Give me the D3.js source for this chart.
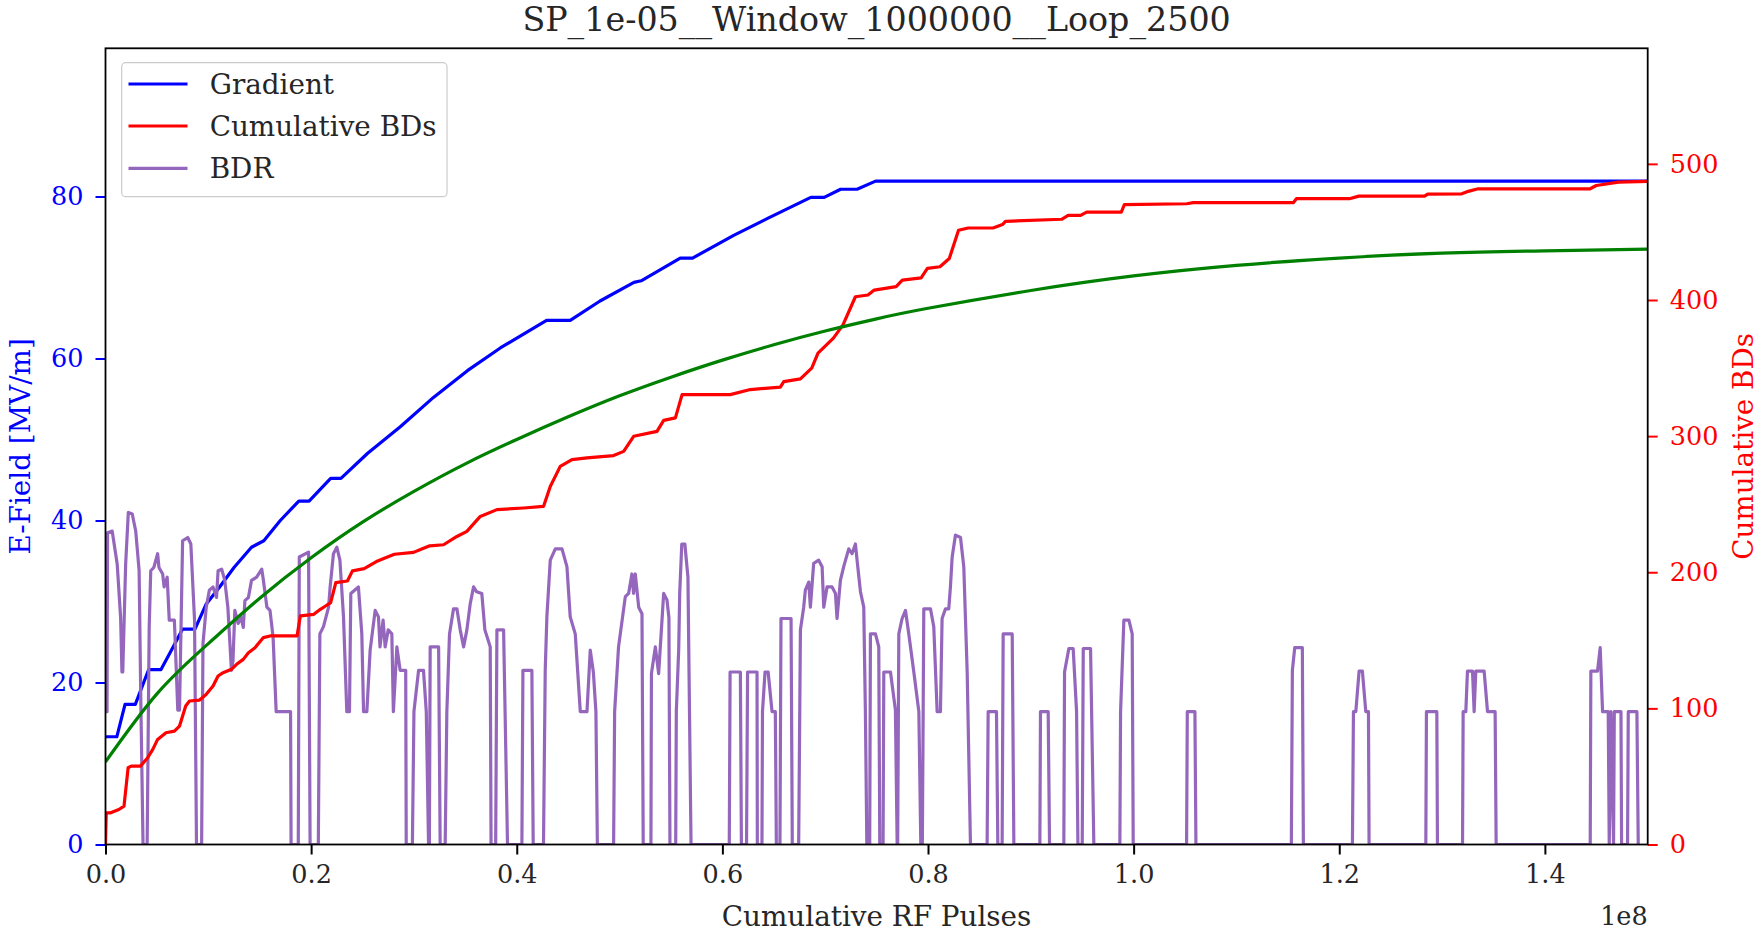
<!DOCTYPE html>
<html>
<head>
<meta charset="utf-8">
<script src="https://cdn.jsdelivr.net/npm/d3@7"></script>
<style>
  html, body { margin: 0; padding: 0; background: #ffffff; }
  svg { display: block; }
  text { font-family: "DejaVu Serif", serif; }
</style>
</head>
<body>
<svg id="chart" width="1760" height="933"></svg>
<script>
// ---------------- DATA (x in units of 1e8 pulses) ----------------
const chartTitle = "SP_1e-05__Window_1000000__Loop_2500";
const xLabel = "Cumulative RF Pulses";
const yLeftLabel = "E-Field [MV/m]";
const yRightLabel = "Cumulative BDs";
const xOffsetLabel = "1e8";
const legendLabels = ["Gradient", "Cumulative BDs", "BDR"];

const xTicks = [0, 0.2, 0.4, 0.6, 0.8, 1.0, 1.2, 1.4];
const xTickLabels = ["0.0", "0.2", "0.4", "0.6", "0.8", "1.0", "1.2", "1.4"];
const leftTicks = [0, 20, 40, 60, 80];
const rightTicks = [0, 100, 200, 300, 400, 500];

// Gradient (left axis, MV/m)
const gradient = [
  [0,13.3],[0.011,13.3],[0.019,17.3],[0.029,17.3],[0.042,21.6],[0.054,21.6],[0.065,24.2],
  [0.075,26.6],[0.087,26.6],[0.098,29.7],[0.111,31.8],[0.125,34.2],[0.142,36.7],[0.154,37.5],
  [0.17,40.0],[0.188,42.4],[0.198,42.4],[0.219,45.2],[0.229,45.2],[0.255,48.3],[0.287,51.6],
  [0.319,55.2],[0.352,58.5],[0.384,61.3],[0.429,64.7],[0.452,64.7],[0.481,67.1],[0.514,69.4],
  [0.521,69.6],[0.559,72.4],[0.571,72.4],[0.611,75.2],[0.644,77.3],[0.686,79.9],[0.699,79.9],
  [0.715,80.9],[0.731,80.9],[0.749,81.9],[1.5,81.9]
];

// Cumulative breakdowns (right axis)
const cumulativeBDs = [
  [0,0],[0.0007,23.3],[0.005,23.3],[0.013,25.7],[0.018,28.2],[0.022,56.4],[0.025,57.6],[0.034,57.6],
  [0.041,63.7],[0.046,69.9],[0.0507,77.2],[0.0588,82.1],[0.067,83.3],[0.072,87],[0.078,101.7],
  [0.0817,105.4],[0.0915,106.1],[0.098,110.3],[0.1046,116.4],[0.1095,123.8],[0.1144,126.2],
  [0.1225,128.7],[0.1275,132.4],[0.134,136],[0.139,140.9],[0.1454,144.6],[0.1536,152],[0.16,153.2],
  [0.1863,153.2],[0.1895,167.9],[0.2026,169.1],[0.209,172.8],[0.214,175.2],[0.219,177.7],
  [0.224,192.4],[0.2353,193.6],[0.2402,201],[0.2516,202.7],[0.255,204.2],[0.2647,208.3],
  [0.273,210.8],[0.281,213.2],[0.2996,214.6],[0.307,216.9],[0.3154,219.4],[0.3288,220.2],
  [0.3418,226.3],[0.3515,230],[0.3645,241],[0.3807,246],[0.4066,247.2],[0.4261,248.4],
  [0.4326,263],[0.4423,277.8],[0.4537,282.7],[0.4683,284],[0.4942,285.7],[0.504,288.8],
  [0.5137,299.9],[0.5364,303.5],[0.5429,311.6],[0.5543,313.4],[0.5608,330.5],[0.6077,330.5],
  [0.6272,334.2],[0.6564,336],[0.6597,340],[0.6759,342],[0.6869,350],[0.693,361],[0.708,372],
  [0.7173,381.7],[0.7294,402.4],[0.7416,403.7],[0.7477,407.3],[0.769,409.8],[0.775,414.6],
  [0.7933,416.3],[0.7994,423.2],[0.8116,424.4],[0.8207,430.5],[0.8297,451.2],[0.839,452.9],
  [0.8633,452.9],[0.8724,455.4],[0.8754,457.8],[0.93,459.3],[0.9363,462.2],[0.9484,462.2],
  [0.9543,464.6],[0.988,464.6],[0.991,470],[1.0516,470.7],[1.058,471.5],[1.1553,471.5],
  [1.1583,474.4],[1.21,474.4],[1.219,476.3],[1.283,476.3],[1.286,477.8],[1.3192,478],
  [1.3255,479.8],[1.335,481.7],[1.444,481.7],[1.45,484.1],[1.4716,486.6],[1.5,487.1]
];

// Fitted curve (left axis, green)
const fitCurve = [
  [0,10.2],[0.05,18.6],[0.1,24.8],[0.15,30.4],[0.2,35.4],[0.25,39.8],[0.3,43.6],[0.35,47.0],
  [0.4,50.0],[0.45,52.8],[0.5,55.4],[0.55,57.7],[0.6,59.8],[0.65,61.7],[0.7,63.4],[0.75,64.9],
  [0.8,66.2],[0.9,68.4],[1.0,70.2],[1.1,71.5],[1.2,72.4],[1.3,73.0],[1.4,73.3],[1.5,73.5]
];

// Breakdown rate (plotted against left axis scale)
const bdr = [
  [0,16.4],[0.0015,16.4],[0.002,38.5],[0.0065,38.7],[0.0114,34.6],[0.0147,28],[0.016,21.3],
  [0.0168,21.3],[0.0196,34.6],[0.0222,41],[0.026,40.8],[0.0294,38.7],[0.0327,33.8],[0.0343,18.2],
  [0.0365,0],[0.0405,0],[0.0425,26.8],[0.044,33.8],[0.047,34.2],[0.0507,35.9],[0.052,34.2],
  [0.0556,33.4],[0.057,31.8],[0.06,33],[0.062,27.7],[0.067,27.7],[0.0703,16.6],[0.072,16.6],
  [0.075,37.5],[0.08,37.9],[0.083,37.1],[0.0866,27.7],[0.0885,0],[0.0935,0],[0.0948,24.8],
  [0.098,29.3],[0.101,31.4],[0.1046,31.8],[0.108,30.5],[0.1095,33.8],[0.113,34],[0.116,32.6],
  [0.119,29.3],[0.1225,21.5],[0.124,22.7],[0.1258,28.9],[0.129,27.3],[0.132,28],[0.134,26.8],
  [0.1356,30.1],[0.139,30.5],[0.142,32.6],[0.147,33],[0.152,34],[0.1536,32.6],[0.157,29.3],
  [0.16,28.9],[0.163,25.6],[0.166,16.4],[0.18,16.4],[0.1805,0],[0.1875,0],[0.1885,35.5],
  [0.1975,36.1],[0.199,0],[0.207,0],
  [0.2085,26],[0.212,26.9],[0.217,29.3],[0.2185,31.8],[0.2217,35.9],[0.225,36.7],[0.228,35.1],
  [0.2315,28.1],[0.2347,16.4],[0.2373,16.4],[0.2386,31],[0.246,31.8],[0.2493,26],[0.251,16.4],
  [0.2542,16.4],[0.2574,24],[0.2623,28.9],[0.2655,28.1],[0.267,24.4],[0.27,27.7],[0.272,24.4],
  [0.275,26.5],[0.2785,26],[0.28,16.4],[0.2834,24.4],[0.2866,21.5],[0.292,21.5],[0.2925,0],
  [0.2985,0],[0.3,16.4],[0.3045,21.5],[0.3093,21.5],[0.312,16.4],[0.3142,0],[0.315,0],
  [0.3158,24.4],[0.324,24.4],[0.3255,0],[0.3304,0],[0.332,16.4],[0.3346,26],[0.3385,29.1],
  [0.3418,29.1],[0.345,26.5],[0.3483,24.4],[0.3515,26.5],[0.3547,29.7],[0.358,31.8],[0.361,31.2],
  [0.366,31],[0.369,26.5],[0.3742,24.4],[0.375,0],[0.3795,0],[0.3807,26.5],[0.3872,26.5],
  [0.391,0],[0.405,0],[0.406,21.5],[0.4147,21.5],[0.416,0],[0.426,0],[0.4277,21.5],[0.4293,28.1],
  [0.4326,35.1],[0.4375,36.5],[0.444,36.5],[0.4488,34.3],[0.452,28.1],[0.4569,26],[0.4618,16.4],
  [0.4683,16.4],[0.4715,24],[0.4745,21.3],[0.477,16.4],[0.4784,0],[0.4942,0],[0.4952,16.4],
  [0.499,24.4],[0.5056,30.6],[0.5088,31],[0.512,33.4],[0.5136,31],[0.5153,33.4],[0.5186,29.3],
  [0.5218,28.5],[0.523,0],[0.5305,0],[0.531,21.1],[0.5348,24.4],[0.538,21.1],[0.5429,31],
  [0.5461,30.2],[0.548,28],[0.549,0],[0.5546,0],[0.5552,16.4],[0.5575,24],[0.5585,31],
  [0.5605,37.1],[0.5635,37.1],[0.5665,33],[0.5695,0],[0.6067,0],[0.6075,21.3],[0.6175,21.3],
  [0.6185,0],[0.6235,0],[0.6245,21.3],
  [0.6337,21.3],[0.634,0],[0.6385,0],[0.639,16.4],[0.6415,21.3],[0.6445,21.3],[0.6483,16.4],
  [0.6515,16.4],[0.6525,0],[0.656,0],[0.657,27.9],[0.6668,27.9],[0.668,0],[0.6742,0],
  [0.6759,26.5],[0.6791,29.3],[0.6807,31.4],[0.684,32.4],[0.6856,29.3],[0.6888,34.7],
  [0.6937,35.1],[0.697,34.3],[0.6986,29.3],[0.7018,31.8],[0.7067,31.8],[0.71,31],[0.7115,27.9],
  [0.7148,32.6],[0.718,34.3],[0.7229,36.5],[0.7261,35.9],[0.7294,37.1],[0.731,35.1],[0.7343,31.2],
  [0.7375,29.3],[0.7391,16.4],[0.7405,0],[0.7433,0],[0.744,26],[0.7489,26],[0.7521,24.4],
  [0.7531,0],[0.7563,0],[0.757,21.3],[0.7635,21.3],[0.7683,16.6],[0.77,0],[0.7705,0],[0.7716,26],
  [0.7748,27.9],[0.7781,28.9],[0.7813,26],[0.7862,21.3],[0.7911,16.4],[0.793,0],[0.7945,0],
  [0.7959,29.1],[0.8024,29.1],[0.8056,26.9],[0.8089,16.4],[0.8121,16.4],[0.8137,27.9],[0.817,29.1],
  [0.8202,29.1],[0.8218,31.8],[0.8235,35.5],[0.8267,38.2],[0.8316,37.9],[0.8348,34.3],
  [0.8381,21.3],[0.8413,0],[0.8575,0],[0.8585,16.4],[0.8666,16.4],[0.8679,0],[0.8721,0],
  [0.8731,26],[0.8819,26],[0.8835,0],[0.9088,0],[0.9094,16.4],[0.9169,16.4],[0.9182,0],
  [0.9321,0],[0.9328,21.3],[0.937,24.2],[0.9412,24.2],[0.9445,16.4],[0.9458,0],[0.95,0],
  [0.951,24.2],[0.9581,24.2],[0.9613,0],[0.9866,0],[0.9873,16.4],[0.9905,27.7],[0.9954,27.7],
  [0.9986,26],[0.9996,0],[1.0515,0],[1.0522,16.4],[1.0596,16.4],[1.0606,0],
  [1.1534,0],[1.1544,21.5],[1.1567,24.3],[1.1641,24.3],[1.1651,0],[1.2128,0],[1.2138,16.4],
  [1.2161,16.4],[1.2193,21.4],[1.2225,21.4],[1.2258,16.4],[1.2284,16.4],[1.229,0],[1.2842,0],
  [1.2848,16.4],[1.2949,16.4],[1.2955,0],[1.3199,0],[1.3205,16.4],[1.3231,16.4],[1.3247,21.4],
  [1.3296,21.4],[1.3312,16.4],[1.3328,21.4],[1.3409,21.4],[1.3442,16.4],[1.3516,16.4],
  [1.3526,0],[1.4441,0],[1.4447,21.4],[1.4512,21.4],[1.4538,24.3],[1.4561,16.4],[1.4616,16.4],
  [1.4626,0],[1.4642,16.4],[1.4668,0],[1.4675,16.4],[1.474,16.4],[1.4746,0],[1.4804,0],
  [1.4811,16.4],[1.4895,16.4],[1.4908,0]
];

// ---------------- LAYOUT ----------------
const W = 1760, H = 933;
const plot = { left: 105.5, right: 1647.7, top: 48.3, bottom: 844.5 };
const colors = { blue: "#0000ff", red: "#ff0000", green: "#008000", purple: "#9467bd" };
const fs = { title: 33.3, label: 27.8, tick: 25.5, legend: 27.8 };
const lw = 3.2;

const svg = d3.select("#chart");
svg.append("rect").attr("width", W).attr("height", H).attr("fill", "#ffffff");

const x = d3.scaleLinear().domain([0, 1.5]).range([plot.left, plot.right]);
const yL = d3.scaleLinear().domain([0, 98.3]).range([plot.bottom, plot.top]);
const yR = d3.scaleLinear().domain([0, 584.9]).range([plot.bottom, plot.top]);

const lineL = d3.line().x(d => x(d[0])).y(d => yL(d[1]));
const lineR = d3.line().x(d => x(d[0])).y(d => yR(d[1]));
const lineSmooth = d3.line().x(d => x(d[0])).y(d => yL(d[1])).curve(d3.curveNatural);

svg.append("defs").append("clipPath").attr("id", "clip")
  .append("rect").attr("x", plot.left).attr("y", plot.top)
  .attr("width", plot.right - plot.left).attr("height", plot.bottom - plot.top);

const g = svg.append("g").attr("clip-path", "url(#clip)");
g.append("path").datum(gradient).attr("d", lineL).attr("fill", "none")
  .attr("stroke", colors.blue).attr("stroke-width", lw).attr("stroke-linejoin", "round");
g.append("path").datum(bdr).attr("d", lineL).attr("fill", "none")
  .attr("stroke", colors.purple).attr("stroke-width", lw).attr("stroke-linejoin", "round");
g.append("path").datum(cumulativeBDs).attr("d", lineR).attr("fill", "none")
  .attr("stroke", colors.red).attr("stroke-width", lw).attr("stroke-linejoin", "round");
g.append("path").datum(fitCurve).attr("d", lineSmooth).attr("fill", "none")
  .attr("stroke", colors.green).attr("stroke-width", lw);

// ---------------- AXES ----------------
const tickLen = 10, tickPad = 12;
const xAxis = d3.axisBottom(x).tickValues(xTicks)
  .tickFormat((d, i) => xTickLabels[i]).tickSizeInner(tickLen).tickSizeOuter(0).tickPadding(tickPad - 2);
const gx = svg.append("g").attr("transform", `translate(0,${plot.bottom})`).call(xAxis);
gx.select(".domain").remove();
gx.selectAll(".tick line").attr("stroke", "#000").attr("stroke-width", 2);
gx.selectAll(".tick text").attr("fill", "#262626").attr("font-size", fs.tick)
  .attr("font-family", "DejaVu Serif").attr("dy", "0.71em");

const yAxisL = d3.axisLeft(yL).tickValues(leftTicks).tickSizeInner(tickLen).tickSizeOuter(0).tickPadding(tickPad);
const gyl = svg.append("g").attr("transform", `translate(${plot.left},0)`).call(yAxisL);
gyl.select(".domain").remove();
gyl.selectAll(".tick line").attr("stroke", colors.blue).attr("stroke-width", 2);
gyl.selectAll(".tick text").attr("fill", colors.blue).attr("font-size", fs.tick)
  .attr("font-family", "DejaVu Serif");

const yAxisR = d3.axisRight(yR).tickValues(rightTicks).tickSizeInner(tickLen).tickSizeOuter(0).tickPadding(tickPad);
const gyr = svg.append("g").attr("transform", `translate(${plot.right},0)`).call(yAxisR);
gyr.select(".domain").remove();
gyr.selectAll(".tick line").attr("stroke", colors.red).attr("stroke-width", 2);
gyr.selectAll(".tick text").attr("fill", colors.red).attr("font-size", fs.tick)
  .attr("font-family", "DejaVu Serif");

// spines
svg.append("rect").attr("x", plot.left).attr("y", plot.top)
  .attr("width", plot.right - plot.left).attr("height", plot.bottom - plot.top)
  .attr("fill", "none").attr("stroke", "#000").attr("stroke-width", 1.8);

// ---------------- TEXT ----------------
svg.append("text").attr("x", (plot.left + plot.right) / 2).attr("y", 31)
  .attr("text-anchor", "middle").attr("font-size", fs.title).attr("fill", "#262626").text(chartTitle);

svg.append("text").attr("x", (plot.left + plot.right) / 2).attr("y", 926)
  .attr("text-anchor", "middle").attr("font-size", fs.label).attr("fill", "#262626").text(xLabel);

svg.append("text").attr("x", plot.right).attr("y", 925)
  .attr("text-anchor", "end").attr("font-size", fs.tick).attr("fill", "#262626").text(xOffsetLabel);

svg.append("text").attr("transform", `translate(30,${(plot.top + plot.bottom) / 2}) rotate(-90)`)
  .attr("text-anchor", "middle").attr("font-size", fs.label).attr("fill", colors.blue).text(yLeftLabel);

svg.append("text").attr("transform", `translate(1753,${(plot.top + plot.bottom) / 2}) rotate(-90)`)
  .attr("text-anchor", "middle").attr("font-size", fs.label).attr("fill", colors.red).text(yRightLabel);

// ---------------- LEGEND ----------------
const legend = svg.append("g");
legend.append("rect").attr("x", 121.7).attr("y", 62.7).attr("width", 325.3).attr("height", 134)
  .attr("rx", 4).attr("ry", 4).attr("fill", "#ffffff").attr("fill-opacity", 0.8)
  .attr("stroke", "#cccccc").attr("stroke-width", 1.2);
const legendColors = [colors.blue, colors.red, colors.purple];
const legendRows = [84, 126, 168.3];
legendLabels.forEach((lab, i) => {
  legend.append("line").attr("x1", 128.5).attr("x2", 187.5)
    .attr("y1", legendRows[i]).attr("y2", legendRows[i])
    .attr("stroke", legendColors[i]).attr("stroke-width", lw);
  legend.append("text").attr("x", 209.7).attr("y", legendRows[i] + 10)
    .attr("font-size", fs.legend).attr("fill", "#262626").text(lab);
});
</script>
</body>
</html>
